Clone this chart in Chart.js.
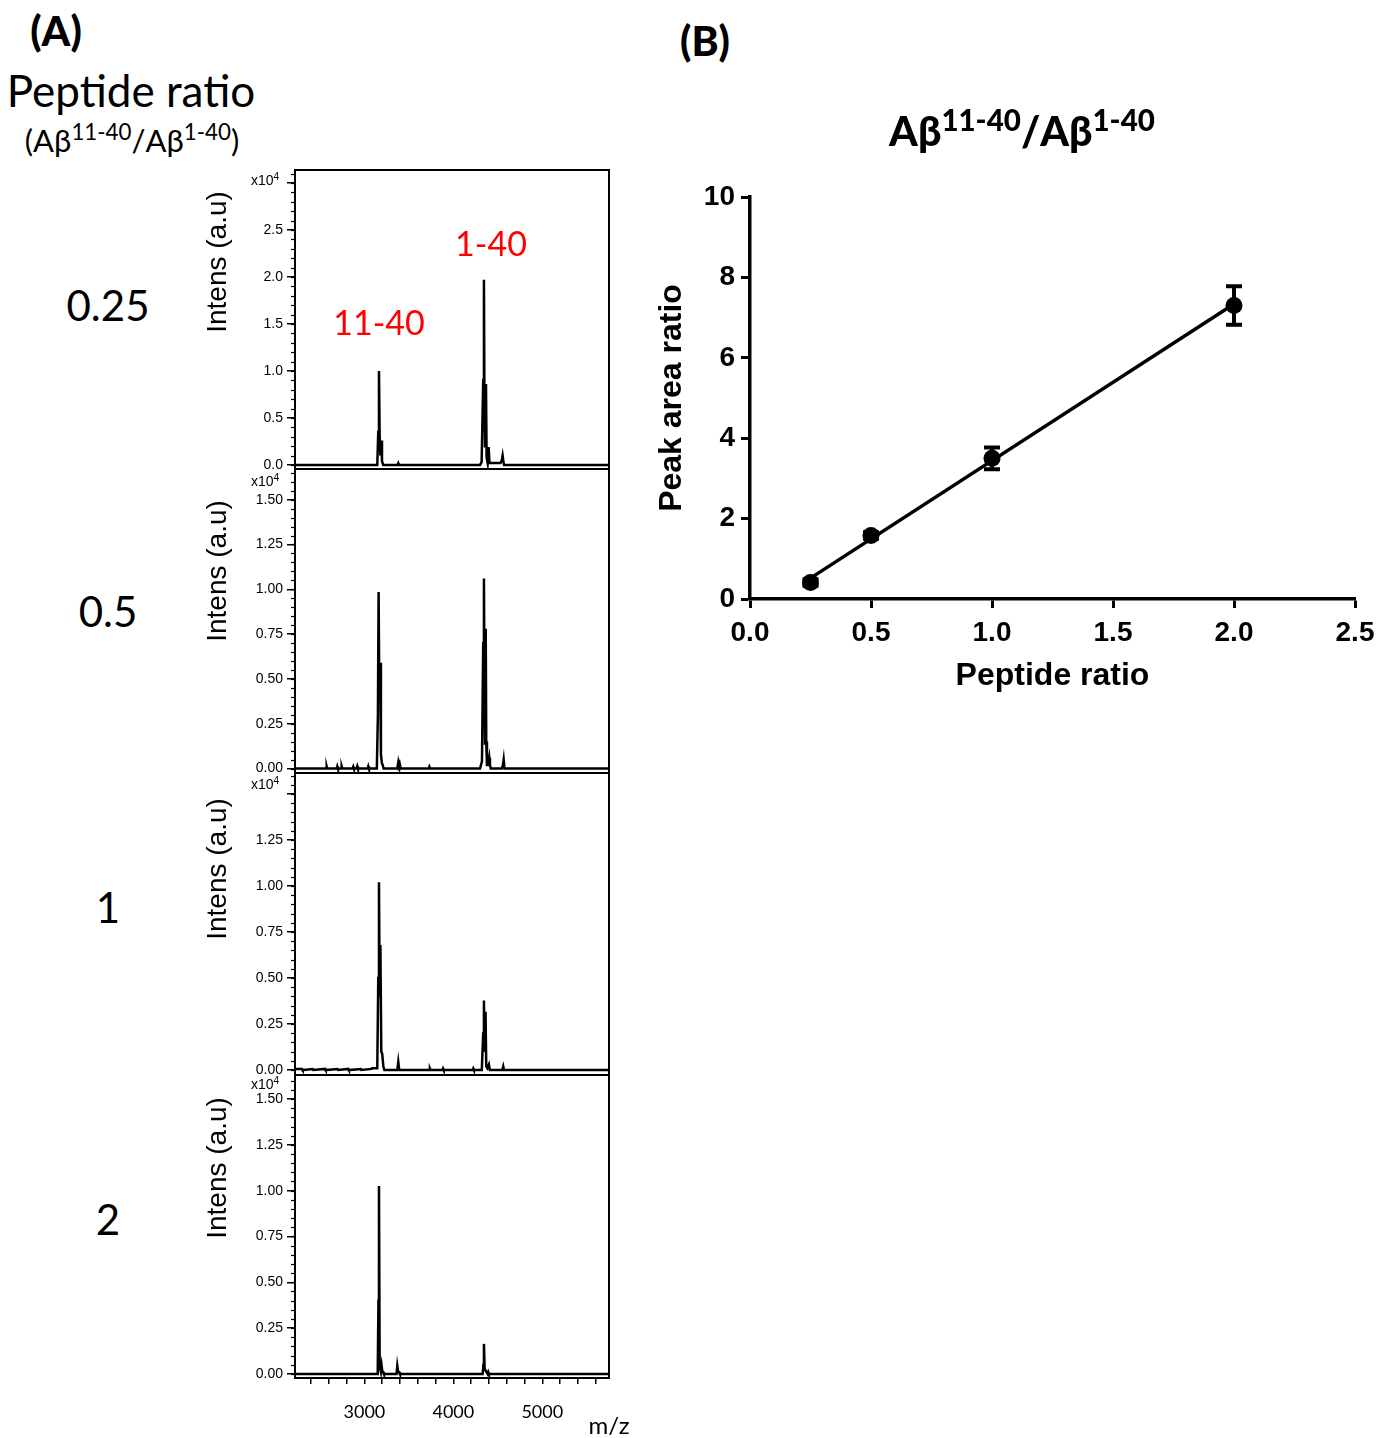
<!DOCTYPE html>
<html>
<head>
<meta charset="utf-8">
<script src="https://cdn.jsdelivr.net/npm/chart.js@4.4.0/dist/chart.umd.min.js"></script>
<style>
body { margin: 0; background: #fff; width: 1393px; height: 1438px; position: relative; overflow: hidden; }
canvas { position: absolute; }
.lbl { position: absolute; transform: translate(-50%, -50%); white-space: nowrap; line-height: 1; font-family: Lato, "Open Sans", sans-serif; color: #000; }
.rot { transform: translate(-50%, -50%) rotate(-90deg); }
.left { transform: translate(0, -50%); }
.arial { font-family: "Liberation Sans", Arial, sans-serif; }
.red { color: #ff0000; }
sup { font-size: 0.72em; vertical-align: 0.5em; line-height: 0; }
</style>
</head>
<body>

<canvas id="s0"></canvas>
<canvas id="s1"></canvas>
<canvas id="s2"></canvas>
<canvas id="s3"></canvas>
<canvas id="cB"></canvas>

<div class="lbl" style="left:56px; top:30px; font-size:41px; font-weight:900;">(A)</div>
<div class="lbl" style="left:131px; top:90px; font-size:44px;">Peptide ratio</div>
<div class="lbl" style="left:132px; top:140px; font-size:31px;">(Aβ<sup>11-40</sup>/Aβ<sup>1-40</sup>)</div>

<div class="lbl" style="left:108px; top:305px; font-size:42px;">0.25</div>
<div class="lbl" style="left:108px; top:611px; font-size:42px;">0.5</div>
<div class="lbl" style="left:108px; top:907px; font-size:42px;">1</div>
<div class="lbl" style="left:108px; top:1219px; font-size:42px;">2</div>

<div class="lbl red" style="left:379px; top:322px; font-size:34px;">11-40</div>
<div class="lbl red" style="left:491px; top:243px; font-size:34px;">1-40</div>

<div class="lbl rot arial" style="left:217px; top:262px; font-size:28px;">Intens (a.u)</div>
<div class="lbl rot arial" style="left:217px; top:571px; font-size:28px;">Intens (a.u)</div>
<div class="lbl rot arial" style="left:217px; top:869px; font-size:28px;">Intens (a.u)</div>
<div class="lbl rot arial" style="left:217px; top:1168px; font-size:28px;">Intens (a.u)</div>

<div class="lbl left arial" style="left:251px; top:180px; font-size:14px;">x10<sup>4</sup></div>
<div class="lbl left arial" style="left:251px; top:481px; font-size:14px;">x10<sup>4</sup></div>
<div class="lbl left arial" style="left:251px; top:784px; font-size:14px;">x10<sup>4</sup></div>
<div class="lbl left arial" style="left:251px; top:1084px; font-size:14px;">x10<sup>4</sup></div>

<div class="lbl" style="left:609px; top:1425px; font-size:24px;">m/z</div>

<div class="lbl" style="left:705px; top:40px; font-size:41px; font-weight:900;">(B)</div>
<div class="lbl" style="left:1022px; top:130px; font-size:41px; font-weight:900;">Aβ<sup>11-40</sup>/Aβ<sup>1-40</sup></div>

<script>
// ---- panel A: MALDI spectra, intensity in x10^4 ----
let mzTicks = [2400, 2600, 2800, 3000, 3200, 3400, 3600, 3800, 4000, 4200, 4400, 4600, 4800, 5000, 5200, 5400, 5600];
let mzLabels = [3000, 4000, 5000];

let mz025  = [2220, 3145, 3156, 3164, 3172, 3180, 3190, 3198, 3212, 3372, 3381, 3390, 4300, 4318, 4336, 4344, 4350, 4356, 4367, 4374, 4386, 4397, 4406, 4420, 4530, 4545, 4554, 4561, 4570, 5750];
let int025 = [0, 0, 0.35, 1.00, 0.30, 0.10, 0.26, 0.04, 0, 0, 0.02, 0, 0, 0.03, 0.9, 1.97, 0.6, 0.2, 0.86, 0.08, 0.02, 0.19, 0.02, 0.02, 0.02, 0.05, 0.10, 0.05, 0, 0];

let mz05  = [2220, 2570, 2576, 2582, 2688, 2695, 2702, 2738, 2745, 2752, 2868, 2875, 2882, 2913, 2920, 2927, 3037, 3044, 3051, 3140, 3152, 3160, 3168, 3178, 3186, 3196, 3206, 3216, 3370, 3382, 3389, 3396, 3408, 3722, 3730, 3738, 4300, 4322, 4336, 4344, 4350, 4356, 4364, 4370, 4378, 4392, 4404, 4412, 4420, 4545, 4558, 4566, 4575, 5750];
let int05 = [0, 0, 0.012, 0, 0, 0.012, 0, 0, 0.012, 0, 0, 0.01, 0, 0, 0.012, 0, 0, 0.012, 0, 0, 0.3, 0.985, 0.4, 0.59, 0.08, 0.03, 0.02, 0, 0, 0.037, 0.02, 0.03, 0, 0, 0.01, 0, 0, 0.04, 0.7, 1.06, 0.5, 0.14, 0.78, 0.15, 0.02, 0.02, 0.06, 0.02, 0, 0, 0.02, 0.05, 0, 0];

let mz1  = [2220, 2300, 2306, 2420, 2426, 2560, 2566, 2700, 2706, 2820, 2826, 2960, 2966, 3080, 3086, 3145, 3156, 3164, 3172, 3180, 3190, 3200, 3213, 3225, 3370, 3381, 3392, 3730, 3737, 3744, 3877, 3884, 3891, 4217, 4224, 4231, 4320, 4336, 4344, 4352, 4362, 4370, 4382, 4400, 4410, 4550, 4561, 4570, 5750];
let int1 = [0.005, 0.005, 0, 0.005, 0, 0.006, 0, 0.005, 0, 0.006, 0, 0.005, 0, 0.006, 0.01, 0.01, 0.5, 1.02, 0.4, 0.68, 0.1, 0.09, 0.02, 0, 0, 0.045, 0, 0, 0.008, 0, 0, 0.008, 0, 0, 0.008, 0, 0, 0.2, 0.378, 0.1, 0.316, 0.02, 0.01, 0.03, 0, 0, 0.02, 0, 0];

let mz2  = [2220, 3150, 3158, 3164, 3172, 3186, 3194, 3203, 3213, 3220, 3362, 3370, 3380, 3392, 3400, 4330, 4338, 4344, 4352, 4362, 4386, 4393, 4400, 5750];
let int2 = [0, 0, 0.4, 1.025, 0.04, 0.01, 0.044, 0.01, 0.01, 0, 0, 0.044, 0.01, 0.01, 0, 0, 0.05, 0.164, 0.03, 0.02, 0, 0.01, 0, 0];

let intTicks025  = [0, 0.5, 1.0, 1.5, 2.0, 2.5, 3.0];
let intLabels025 = ["0.0", "0.5", "1.0", "1.5", "2.0", "2.5", ""];
let intTicks     = [0, 0.25, 0.5, 0.75, 1.0, 1.25, 1.5];
let intLabels    = ["0.00", "0.25", "0.50", "0.75", "1.00", "1.25", "1.50"];
let intLabels1   = ["0.00", "0.25", "0.50", "0.75", "1.00", "1.25", ""];

let spectrumMz  = [mz025, mz05, mz1, mz2];
let spectrumInt = [int025, int05, int1, int2];
let majorTicks  = [intTicks025, intTicks, intTicks, intTicks];
let majorLabels = [intLabels025, intLabels, intLabels1, intLabels];
let minorStep   = [0.1, 0.05, 0.05, 0.05];

// frame top/bottom (page px) and y ranges so 0 sits just above the frame
let frames  = [[170, 469], [469, 773], [773, 1075], [1075, 1378]];
let yRanges = [[-0.043, 3.138], [-0.025, 1.671], [-0.027, 1.614], [-0.022, 1.631]];

// ---- panel B ----
let peptideRatio  = [0.25, 0.5, 1.0, 2.0];
let peakAreaRatio = [0.41, 1.58, 3.50, 7.30];
let peakAreaSem   = [0.08, 0.08, 0.27, 0.48];
let ticksBx = [0, 0.5, 1.0, 1.5, 2.0, 2.5];
let ticksBy = [0, 2, 4, 6, 8, 10];


let frameBox = {

	id: 'frameBox',

	beforeDraw(chart) {

		let ctx = chart.ctx, a = chart.chartArea;
		ctx.save();
		ctx.fillStyle = '#fff';
		ctx.fillRect(0, a.top, chart.width, chart.height - a.top);
		ctx.restore();

	},

	afterDraw(chart, args, opts) {

		let ctx = chart.ctx, a = chart.chartArea;
		let s = chart.scales.y;
		ctx.save();
		ctx.strokeStyle = '#000';
		ctx.lineWidth = 2;
		ctx.strokeRect(a.left, a.top, a.right - a.left, a.bottom - a.top);

		// minor ticks on the intensity axis
		ctx.lineWidth = 1.2;
		for (let k = 0; k * opts.step <= s.max; k++) {
			let y = Math.round(s.getPixelForValue(k * opts.step)) + 0.5;
			ctx.beginPath();
			ctx.moveTo(a.left - 4, y);
			ctx.lineTo(a.left, y);
			ctx.stroke();
		}
		ctx.restore();

	}

};

function makeSpectrum(i) {

	let canvas = document.getElementById("s" + i);
	let last = (i == 3);
	let top = frames[i][0] - 2;
	let height = (frames[i][1] - frames[i][0]) + 2 + (last ? 52 : 10);

	canvas.width = 440;
	canvas.height = height;
	canvas.style.left = "180px";
	canvas.style.top = top + "px";
	canvas.style.width = "440px";
	canvas.style.height = height + "px";

	let points = spectrumMz[i].map(function(mz, k) { return {x: mz, y: spectrumInt[i][k]}; });

	let xScale = {
		type: 'linear',
		min: 2220,
		max: 5750,
		display: last,
		afterBuildTicks: function(s) { s.ticks = mzTicks.map(function(v) { return {value: v}; }); },
		ticks: {
			autoSkip: false,
			maxRotation: 0,
			padding: 17,
			color: '#000',
			font: {family: 'Lato', size: 18},
			callback: function(v) { return mzLabels.includes(v) ? String(v) : ''; }
		},
		grid: {drawOnChartArea: false, tickLength: 6, color: '#000', lineWidth: 1.5},
		border: {display: true, color: '#000', width: 2}
	};

	if (last) {
		xScale.afterFit = function(s) { s.height = 52; s.paddingLeft = 0; s.paddingRight = 0; };
	}

	return new Chart(canvas, {
		type: 'scatter',
		data: {
			datasets: [{
				data: points,
				showLine: true,
				borderColor: '#000',
				borderWidth: 2.5,
				pointRadius: 0,
				tension: 0
			}]
		},
		options: {
			responsive: false,
			animation: false,
			devicePixelRatio: 1,
			events: [],
			layout: {padding: {top: 2, right: 11, bottom: last ? 0 : 10, left: 0}},
			plugins: {legend: {display: false}, tooltip: {enabled: false}, frameBox: {step: minorStep[i]}},
			scales: {
				x: xScale,
				y: {
					type: 'linear',
					min: yRanges[i][0],
					max: yRanges[i][1],
					afterBuildTicks: function(s) { s.ticks = majorTicks[i].map(function(v) { return {value: v}; }); },
					afterFit: function(s) { s.width = 115; s.paddingTop = 0; s.paddingBottom = 0; },
					ticks: {
						autoSkip: false,
						padding: 4,
						color: '#000',
						font: {family: 'Liberation Sans', size: 14},
						callback: function(v, idx) { return majorLabels[i][idx]; }
					},
					grid: {drawOnChartArea: false, tickLength: 8, color: '#000', lineWidth: 1.5},
					border: {display: true, color: '#000', width: 2}
				}
			}
		},
		plugins: [frameBox]
	});

}

for (let i = 0; i < 4; i++) makeSpectrum(i);


// least squares line through the means
let n = peptideRatio.length;
let mx = peptideRatio.reduce(function(a, b) { return a + b; }, 0) / n;
let my = peakAreaRatio.reduce(function(a, b) { return a + b; }, 0) / n;
let sxy = 0, sxx = 0;
for (let k = 0; k < n; k++) {
	sxy += (peptideRatio[k] - mx) * (peakAreaRatio[k] - my);
	sxx += (peptideRatio[k] - mx) * (peptideRatio[k] - mx);
}
let slope = sxy / sxx;
let intercept = my - slope * mx;
let xFirst = peptideRatio[0], xLast = peptideRatio[n - 1];

let errorBars = {

	id: 'errorBars',

	afterDatasetsDraw(chart) {

		let ctx = chart.ctx, xs = chart.scales.x, ys = chart.scales.y;
		ctx.save();
		ctx.strokeStyle = '#000';
		ctx.lineWidth = 4;
		for (let k = 0; k < peptideRatio.length; k++) {
			let x = xs.getPixelForValue(peptideRatio[k]);
			let y1 = ys.getPixelForValue(peakAreaRatio[k] + peakAreaSem[k]);
			let y2 = ys.getPixelForValue(peakAreaRatio[k] - peakAreaSem[k]);
			ctx.beginPath();
			ctx.moveTo(x, y1); ctx.lineTo(x, y2);
			ctx.moveTo(x - 8, y1); ctx.lineTo(x + 8, y1);
			ctx.moveTo(x - 8, y2); ctx.lineTo(x + 8, y2);
			ctx.stroke();
		}
		ctx.restore();

	}

};

let cB = document.getElementById("cB");
cB.width = 753;
cB.height = 620;
cB.style.left = "640px";
cB.style.top = "90px";
cB.style.width = "753px";
cB.style.height = "620px";

let boldFont = {family: 'Liberation Sans', size: 28, weight: 'bold'};

new Chart(cB, {
	type: 'scatter',
	data: {
		datasets: [{
			data: peptideRatio.map(function(x, k) { return {x: x, y: peakAreaRatio[k]}; }),
			backgroundColor: '#000',
			borderColor: '#000',
			pointRadius: 8.5,
			pointBorderWidth: 0,
			order: 1
		}, {
			data: [{x: xFirst, y: intercept + slope * xFirst}, {x: xLast, y: intercept + slope * xLast}],
			showLine: true,
			borderColor: '#000',
			borderWidth: 3.5,
			pointRadius: 0,
			order: 2
		}]
	},
	options: {
		responsive: false,
		animation: false,
		devicePixelRatio: 1,
		events: [],
		clip: false,
		layout: {padding: {top: 107, right: 38, bottom: 0, left: 0}},
		plugins: {legend: {display: false}, tooltip: {enabled: false}},
		scales: {
			x: {
				type: 'linear',
				min: 0,
				max: 2.5,
				afterBuildTicks: function(s) { s.ticks = ticksBx.map(function(v) { return {value: v}; }); },
				afterFit: function(s) { s.height = 111; s.paddingLeft = 0; s.paddingRight = 0; },
				ticks: {autoSkip: false, maxRotation: 0, padding: 8, color: '#000', font: boldFont, callback: function(v) { return v.toFixed(1); }},
				grid: {drawOnChartArea: false, tickLength: 9, color: '#000', tickWidth: 3},
				border: {display: true, color: '#000', width: 3.5},
				title: {display: true, text: 'Peptide ratio', color: '#000', font: {family: 'Liberation Sans', size: 32, weight: 'bold'}, padding: {top: 0, bottom: 15}}
			},
			y: {
				type: 'linear',
				min: 0,
				max: 10,
				afterBuildTicks: function(s) { s.ticks = ticksBy.map(function(v) { return {value: v}; }); },
				afterFit: function(s) { s.width = 110; s.paddingTop = 0; s.paddingBottom = 0; },
				ticks: {autoSkip: false, padding: 6, color: '#000', font: boldFont, callback: function(v) { return String(v); }},
				grid: {drawOnChartArea: false, tickLength: 9, color: '#000', tickWidth: 3},
				border: {display: true, color: '#000', width: 3.5},
				title: {display: true, text: 'Peak area ratio', color: '#000', font: {family: 'Liberation Sans', size: 32, weight: 'bold'}, padding: {top: 13, bottom: 0}}
			}
		}
	},
	plugins: [errorBars]
});
</script>
</body>
</html>
